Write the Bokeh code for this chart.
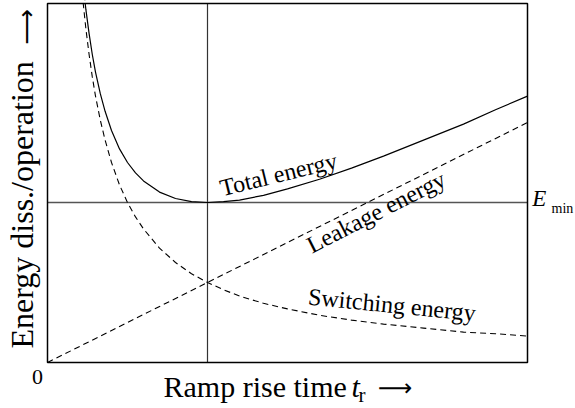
import math
from bokeh.plotting import figure
from bokeh.models import Label, Range1d
from bokeh.embed import file_html
from bokeh.resources import INLINE

# Ramp rise time (arbitrary units) and read-off energies
t_switch = [0.20, 0.22, 0.24, 0.26, 0.28, 0.30, 0.33, 0.36, 0.40, 0.45, 0.50,
            0.55, 0.60, 0.70, 0.80, 0.90, 1.00, 1.10, 1.20, 1.35, 1.50, 1.70,
            1.90, 2.10, 2.35, 2.60, 2.80, 3.00]
switching_energy = [5.00, 4.55, 4.17, 3.85, 3.57, 3.33, 3.03, 2.78, 2.50, 2.22,
                    2.00, 1.82, 1.67, 1.43, 1.25, 1.11, 1.00, 0.91, 0.83, 0.74,
                    0.67, 0.59, 0.53, 0.48, 0.43, 0.38, 0.36, 0.33]

t_leak = [0.0, 3.0]
leakage_energy = [0.0, 3.0]

t_opt = 1.0
E_min = 2.0

# Leakage energy grows in proportion to t, so the total is the sum at each t
total_energy = [s + t for s, t in zip(switching_energy, t_switch)]

# Plotting box in data units
X0, X1 = 0.0, 3.0
Y0, Y1 = 0.0, 4.4875

FONT = "Liberation Serif"
ARROW_FONT = "DejaVu Sans"
ARROW = "\u27f6"

# The frame spans the whole canvas so that the titles outside the box show
p = figure(width=575, height=408, output_backend="svg", toolbar_location=None,
           x_axis_type=None, y_axis_type=None,
           x_range=Range1d(X0 - 47 / 160, X1 + 48 / 160),
           y_range=Range1d(Y0 - 46 / 80, Y1 + 3 / 80),
           min_border=0)
p.grid.visible = False
p.outline_line_color = None
p.background_fill_color = "white"
p.border_fill_color = "white"

# Reference lines at the optimum
p.line([t_opt, t_opt], [Y0, Y1], line_color="#333333", line_width=1.2)
p.line([X0, X1], [E_min, E_min], line_color="#555555", line_width=1.5)

# Curves
p.line(t_switch, total_energy, line_color="black", line_width=1.2)
p.line(t_switch, switching_energy, line_color="black", line_width=1.1,
       line_dash="6 4")
p.line(t_leak, leakage_energy, line_color="black", line_width=1.1,
       line_dash="6 4")

# Hide the curve ends above the box, then draw the box itself
p.quad(left=X0 - 1, right=X1 + 1, bottom=Y1, top=Y1 + 1,
       fill_color="white", line_color=None)
p.quad(left=X0, right=X1, bottom=Y0, top=Y1, fill_color=None,
       line_color="black", line_width=1.5)


def lab(x, y, text, size, angle=0.0, style="normal", align="left", font=FONT):
    p.add_layout(Label(x=x, y=y, text=text, text_font=font,
                       text_font_size=f"{size}px", text_font_style=style,
                       text_color="black", angle=angle, text_align=align,
                       text_baseline="alphabetic"))


# Curve labels
lab(1.08, 2.175, "Total energy", 24, angle=0.24)
lab(1.63, 1.45, "Leakage energy", 24, angle=0.47)
lab(1.63, 0.825, "Switching energy", 24, angle=-0.10)

# E_min marker on the right
lab(3.03, 2.05, "E", 23, style="italic")
lab(3.15, 1.925, "min", 14)

# Origin
lab(-0.0625, -0.175, "0", 22, align="center")

# Axis titles
lab(0.725, -0.30, "Ramp rise time", 30)
lab(1.90, -0.30, "t", 30, style="italic")
lab(1.944, -0.40, "r", 21)
lab(2.065, -0.315, ARROW, 24, font=ARROW_FONT)
lab(-0.1625, 0.175, "Energy diss./operation", 32, angle=math.pi / 2)
lab(-0.133, 3.97, ARROW, 25, angle=math.pi / 2, font=ARROW_FONT)

open("out.html", "w").write(file_html(p, INLINE))
